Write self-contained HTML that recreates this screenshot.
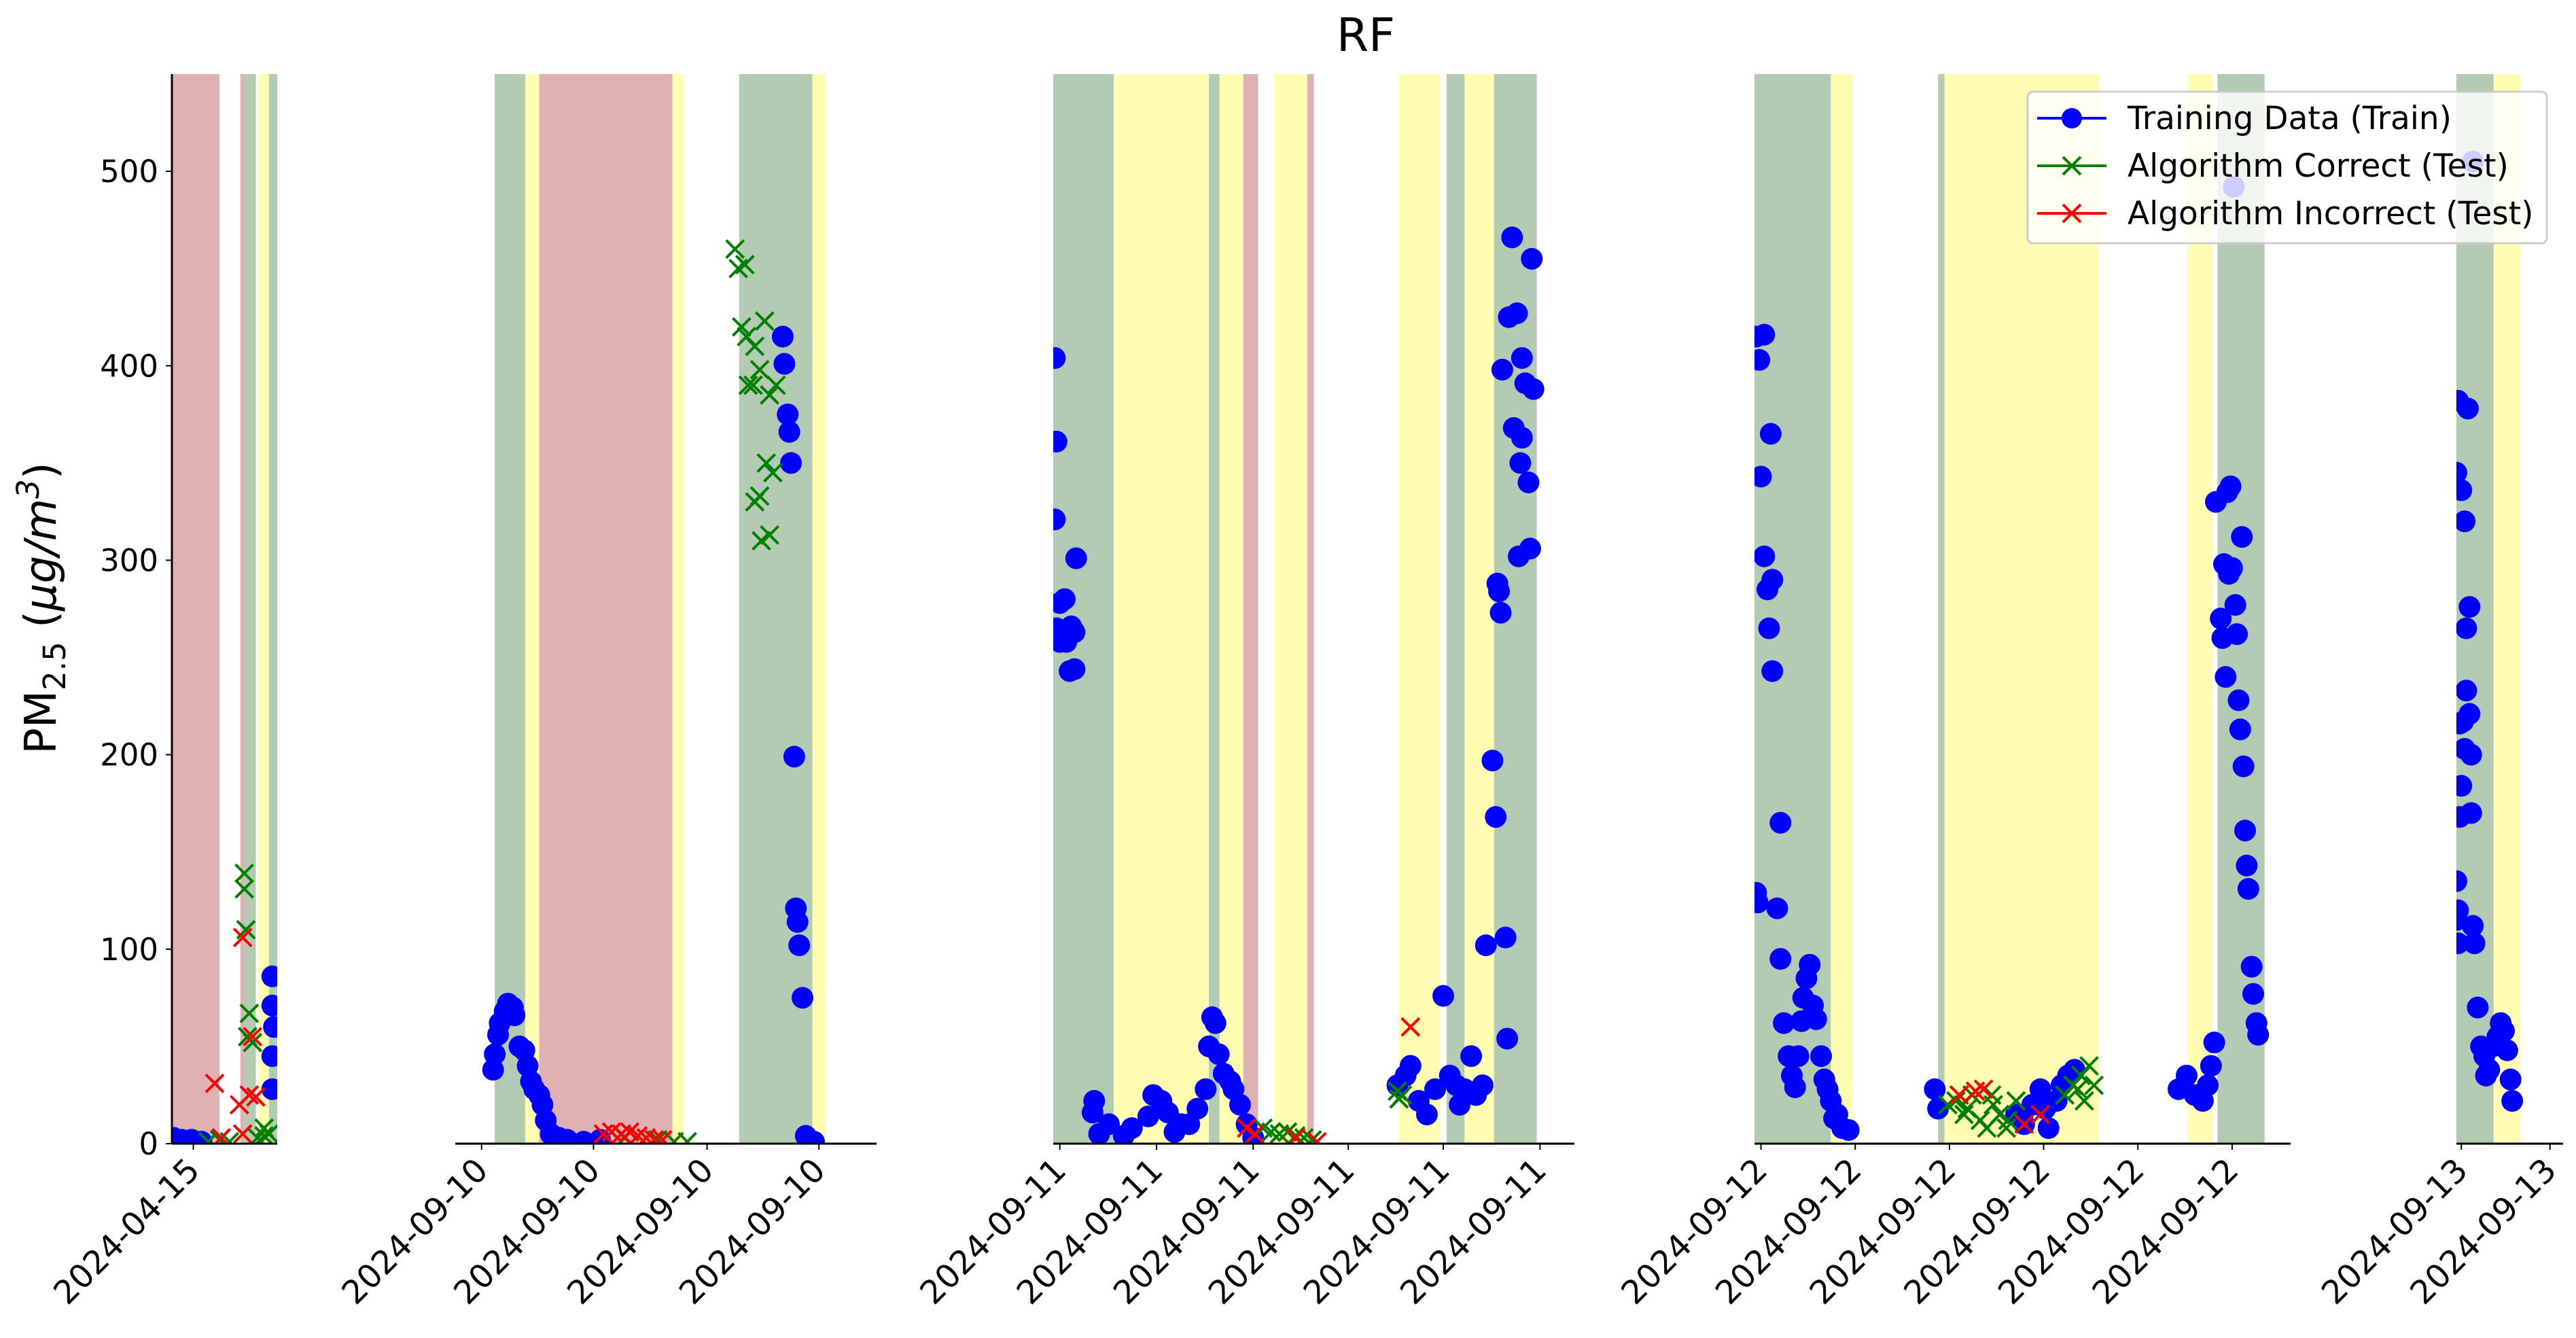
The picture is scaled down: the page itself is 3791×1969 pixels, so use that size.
<!DOCTYPE html>
<html><head><meta charset="utf-8"><style>
html,body{margin:0;padding:0;background:#fff}
svg{display:block}
text{font-family:"DejaVu Sans","Liberation Sans",sans-serif}
</style></head><body>
<svg id="chart" width="3791" height="1969" viewBox="0 0 3791 1969">
<text x="2010" y="75" font-size="68" text-anchor="middle">RF</text>
<g id="plots"></g>
<text transform="translate(82,895) rotate(-90)" font-size="64" text-anchor="middle">PM<tspan font-size="45" dy="14">2.5</tspan><tspan dy="-14"> (</tspan><tspan font-style="italic">μg/m</tspan><tspan font-size="45" dy="-25" font-style="italic">3</tspan><tspan dy="25">)</tspan></text>
<g id="legend">
<rect x="2984" y="135" width="764" height="223" rx="8" fill="#fff" fill-opacity="0.8" stroke="#ccc" stroke-width="3"/>
<g><line x1="2998" y1="174" x2="3100" y2="174" stroke="#0000ff" stroke-width="4"/><circle cx="3049" cy="174" r="15" fill="#0000ff"/><text x="3131" y="190" font-size="47">Training Data (Train)</text></g>
<g><line x1="2998" y1="244" x2="3100" y2="244" stroke="#008000" stroke-width="4"/><path d="M3036 231L3062 257M3036 257L3062 231" stroke="#008000" stroke-width="4"/><text x="3131" y="260" font-size="47">Algorithm Correct (Test)</text></g>
<g><line x1="2998" y1="314" x2="3100" y2="314" stroke="#ff0000" stroke-width="4"/><path d="M3036 301L3062 327M3036 327L3062 301" stroke="#ff0000" stroke-width="4"/><text x="3131" y="330" font-size="47">Algorithm Incorrect (Test)</text></g>
</g>
</svg>
<script>
// y ticks
const yTicks = [0,100,200,300,400,500];
// panel tick labels
const tickLabels1 = ["2024-04-15"];
const tickLabels2 = ["2024-09-10","2024-09-10","2024-09-10","2024-09-10"];
const tickLabels3 = ["2024-09-11","2024-09-11","2024-09-11","2024-09-11","2024-09-11","2024-09-11"];
const tickLabels4 = ["2024-09-12","2024-09-12","2024-09-12","2024-09-12","2024-09-12","2024-09-12"];
const tickLabels5 = ["2024-09-13","2024-09-13"];
// tick times (panel-relative time units)
const tickTimes1 = [13];
const tickTimes2 = [16,84,153,221];
const tickTimes3 = [4,63,122,180,238,297];
const tickTimes4 = [4,62,120,178,236,294];
const tickTimes5 = [3,57];
// shaded bands [start,end,kind]
const bands1 = [[0,29,"r"],[41.6,44,"r"],[44,51,"g"],[52.5,59,"y"],[59,64,"g"]];
const bands2 = [[24,42.5,"g"],[42.5,51,"y"],[51,132,"r"],[132,139,"y"],[172.5,217,"g"],[217,225,"y"]];
const bands3 = [[0,37,"g"],[37,95,"y"],[95,101.5,"g"],[101.5,116,"y"],[116,125,"r"],[135,155,"y"],[155,159,"r"],[211,236,"y"],[240,251,"g"],[251,269,"y"],[269,295,"g"]];
const bands4 = [[0,47,"g"],[47,60.5,"y"],[113,117,"g"],[117,212,"y"],[266.6,282,"y"],[285,314,"g"]];
const bands5 = [[0,22.7,"g"],[22.7,39,"y"]];
// train data [t, value]
const train1 = [[1,3],[6,2],[12,2],[18,1],[61,86],[61,71],[62,60],[61,45],[61,28]];
const train2 = [[23,38],[24,46],[26,56],[27,62],[30,68],[32,72],[35,70],[36,66],[39,50],[42,48],[44,40],[46,32],[48,28],[51,25],[53,20],[55,12],[58,5],[63,3],[68,2],[78,1],[88,2],[199,415],[200,401],[202,375],[203,366],[204,350],[206,199],[207,121],[208,114],[209,102],[211,75],[213,4],[218,1]];
const train3 = [[1,404],[2,361],[1,321],[14,301],[4,278],[7,280],[2,265],[11,266],[4,258],[8,258],[13,263],[10,243],[13,244],[25,22],[24,16],[28,5],[34,10],[43,4],[48,8],[58,14],[61,25],[66,22],[70,16],[74,6],[78,10],[83,10],[88,18],[93,28],[95,50],[97,65],[99,62],[101,46],[104,36],[108,32],[110,28],[114,20],[118,10],[122,3],[210,30],[215,35],[218,40],[223,22],[228,15],[233,28],[238,76],[242,35],[246,30],[248,20],[251,28],[255,45],[258,25],[262,30],[264,102],[268,197],[270,168],[271,288],[272,284],[273,273],[274,398],[276,106],[277,54],[278,425],[280,466],[281,368],[283,427],[284,302],[285,350],[286,363],[286,404],[288,391],[290,340],[291,306],[292,455],[293,388]];
const train4 = [[1,415],[6,416],[3,403],[10,365],[4,343],[1,129],[2,124],[6,302],[8,285],[11,290],[9,265],[11,243],[16,165],[14,121],[16,95],[18,62],[21,45],[23,35],[25,29],[27,45],[29,63],[30,75],[32,85],[34,92],[36,71],[38,64],[41,45],[43,33],[45,28],[47,22],[49,13],[51,15],[54,8],[58,7],[111,28],[113,18],[161,15],[166,10],[171,20],[176,28],[179,18],[181,8],[186,22],[189,30],[193,35],[197,38],[261,28],[266,35],[271,25],[276,22],[279,30],[281,40],[283,52],[284,330],[287,270],[291,335],[293,338],[289,298],[292,293],[294,296],[288,260],[296,277],[297,262],[290,240],[298,228],[299,213],[300,312],[301,194],[302,161],[303,143],[304,131],[306,91],[307,77],[309,62],[310,56],[295,492]];
const train5 = [[0,345],[1,382],[3,336],[7,378],[5,320],[6,265],[8,276],[2,216],[4,217],[5,203],[8,221],[6,233],[9,200],[3,184],[2,168],[9,170],[0,135],[1,120],[0,115],[1,103],[10,112],[11,103],[13,70],[15,50],[17,45],[18,35],[20,38],[22,50],[25,55],[27,62],[29,58],[31,48],[33,33],[34,22],[10,505]];
// algorithm correct (test)
const correct1 = [[22,1],[29,2],[35,1],[44,139],[44,131],[45,110],[47,67],[46,55],[49,52],[56,8],[56,4],[59,5],[52,3]];
const correct2 = [[170,460],[172,450],[176,452],[174,420],[177,415],[178,390],[181,390],[182,410],[185,398],[188,423],[191,385],[195,390],[189,350],[193,345],[182,330],[185,333],[186,310],[191,313],[103,3],[123,2],[133,1],[141,1]];
const correct3 = [[128,8],[133,6],[138,5],[143,6],[148,4],[153,3],[158,2],[210,27],[211,23],[213,25]];
const correct4 = [[119,20],[124,22],[129,15],[134,25],[139,12],[143,8],[147,20],[151,15],[156,12],[161,22],[191,25],[196,30],[201,35],[206,40],[209,30],[203,22],[199,28],[131,18],[146,25],[155,8]];
const correct5 = [];
// algorithm incorrect (test)
const wrong1 = [[26,31],[43,106],[41,20],[43,5],[49,55],[47,25],[51,24],[30,3]];
const wrong2 = [[90,5],[95,6],[101,5],[106,6],[111,4],[116,3],[121,2],[126,2]];
const wrong3 = [[118,8],[123,5],[148,3],[161,1],[218,60]];
const wrong4 = [[126,25],[136,27],[141,28],[166,10],[176,15]];
const wrong5 = [];

const panels = [
 {x0:253,x1:408,tmax:64,bands:bands1,train:train1,ok:correct1,bad:wrong1,ticks:tickTimes1,labels:tickLabels1},
 {x0:670,x1:1290,tmax:256,bands:bands2,train:train2,ok:correct2,bad:wrong2,ticks:tickTimes2,labels:tickLabels2},
 {x0:1550,x1:2317,tmax:318,bands:bands3,train:train3,ok:correct3,bad:wrong3,ticks:tickTimes3,labels:tickLabels3},
 {x0:2582,x1:3371,tmax:330,bands:bands4,train:train4,ok:correct4,bad:wrong4,ticks:tickTimes4,labels:tickLabels4},
 {x0:3615,x1:3772,tmax:65,bands:bands5,train:train5,ok:correct5,bad:wrong5,ticks:tickTimes5,labels:tickLabels5}
];
const NS="http://www.w3.org/2000/svg";
const Y0=1683, YTOP=109, YMAX=550;
const yS = v => Y0 - v*(Y0-YTOP)/YMAX;
const colors = {g:"#b3cab3",y:"#fefdb1",r:"#e0b1b2"};
const root = document.getElementById("plots");
function mk(tag, attrs, parent){const e=document.createElementNS(NS,tag);for(const k in attrs)e.setAttribute(k,attrs[k]);parent.appendChild(e);return e;}
panels.forEach((p,pi)=>{
  const xS = t => p.x0 + t*(p.x1-p.x0)/p.tmax;
  const g = mk("g",{},root);
  
  
  const clip = mk("clipPath",{id:"c"+pi},g);
  mk("rect",{x:p.x0,y:YTOP,width:p.x1-p.x0,height:Y0-YTOP},clip);
  const inner = mk("g",{"clip-path":"url(#c"+pi+")"},g);
  p.bands.forEach(b=>{
    const r = mk("rect",{x:xS(b[0]),y:YTOP,width:xS(b[1])-xS(b[0]),height:Y0-YTOP,fill:colors[b[2]]},inner);
    
    
  });
  p.train.forEach(d=>{
    const c = mk("circle",{cx:xS(d[0]),cy:yS(d[1]),r:16,fill:"#0000ff"},inner);
    
    
  });
  const cross=(d,col,name)=>{
    const x=xS(d[0]), y=yS(d[1]), s=13;
    const e = mk("path",{d:`M${x-s} ${y-s}L${x+s} ${y+s}M${x-s} ${y+s}L${x+s} ${y-s}`,stroke:col,"stroke-width":4,fill:"none"},inner);
    
    
  };
  p.ok.forEach(d=>cross(d,"#008000","correct-point"));
  p.bad.forEach(d=>cross(d,"#ff0000","incorrect-point"));
  const ax = mk("line",{x1:p.x0,y1:Y0,x2:p.x1,y2:Y0,stroke:"#000","stroke-width":3},g);
  
  
  p.ticks.forEach((t,i)=>{
    const x=xS(t);
    mk("line",{x1:x,y1:Y0,x2:x,y2:Y0+9,stroke:"#000","stroke-width":2},g);
    const tx = mk("text",{x:0,y:0,"font-size":48,"text-anchor":"end",transform:`translate(${x+12},${Y0+42}) rotate(-45)`},g);
    tx.textContent=p.labels[i];
    
    
  });
  if(pi===0){
    const ya = mk("line",{x1:p.x0,y1:YTOP,x2:p.x0,y2:Y0+1,stroke:"#000","stroke-width":3},g);
    
    
    yTicks.forEach(v=>{
      const y=yS(v);
      mk("line",{x1:p.x0-9,y1:y,x2:p.x0,y2:y,stroke:"#000","stroke-width":2},g);
      const tx = mk("text",{x:p.x0-20,y:y+16,"font-size":45,"text-anchor":"end"},g);
      tx.textContent=v;
      
      
    });
  }
});
</script>
</body></html>
